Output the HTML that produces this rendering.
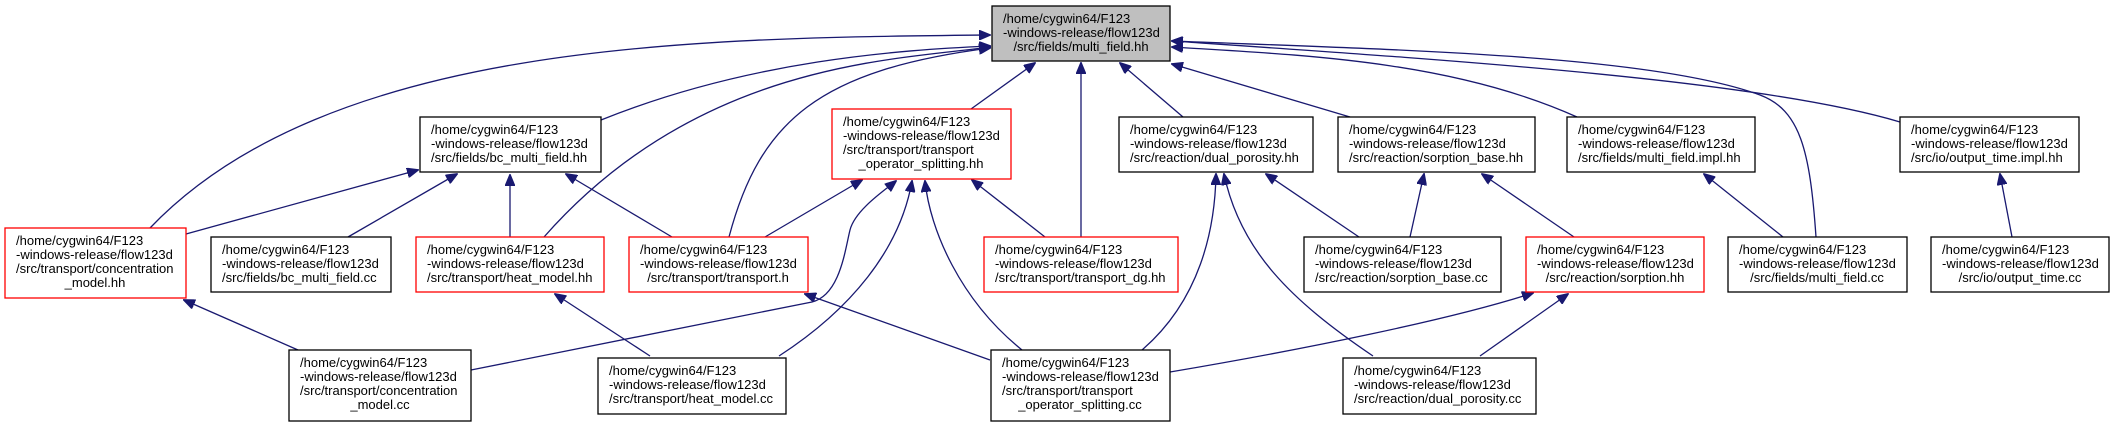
<!DOCTYPE html>
<html><head><meta charset="utf-8"><style>
html,body{margin:0;padding:0;background:#fff;}
svg{display:block;}
text{font-family:"Liberation Sans",sans-serif;font-size:13px;fill:#000;}
.e{fill:none;stroke:#191970;stroke-width:1.3;}
</style></head><body>
<svg width="2115" height="423" viewBox="0 0 2115 423" xmlns="http://www.w3.org/2000/svg">
<defs><marker id="a" markerWidth="12" markerHeight="10" refX="11" refY="5" orient="auto" markerUnits="userSpaceOnUse"><path d="M0,0 L12,5 L0,10 z" fill="#191970" stroke="#191970"/></marker></defs>

<!-- edges to multi_field.hh -->
<path class="e" marker-end="url(#a)" d="M150,228 C330,40 700,38 990,35"/>
<path class="e" marker-end="url(#a)" d="M601,120 C750,60 900,50 990,46"/>
<path class="e" marker-end="url(#a)" d="M544,237 C700,60 900,60 990,47"/>
<path class="e" marker-end="url(#a)" d="M729,237 C760,120 820,70 990,48"/>
<path class="e" marker-end="url(#a)" d="M971,109 L1035,63"/>
<path class="e" marker-end="url(#a)" d="M1081,237 L1081,63"/>
<path class="e" marker-end="url(#a)" d="M1183,117 L1120,63"/>
<path class="e" marker-end="url(#a)" d="M1350,117 L1172,64"/>
<path class="e" marker-end="url(#a)" d="M1577,117 C1450,60 1300,55 1172,47"/>
<path class="e" marker-end="url(#a)" d="M1816,237 C1810,150 1800,110 1760,95 C1650,55 1400,50 1172,41"/>
<path class="e" marker-end="url(#a)" d="M1900,122 C1760,80 1450,60 1172,41"/>

<!-- inner edges -->
<path class="e" marker-end="url(#a)" d="M186,234 L418,170"/>
<path class="e" marker-end="url(#a)" d="M348,237 L457,174"/>
<path class="e" marker-end="url(#a)" d="M510,237 L510,175"/>
<path class="e" marker-end="url(#a)" d="M672,237 L566,174"/>
<path class="e" marker-end="url(#a)" d="M765,237 L862,180"/>
<path class="e" marker-end="url(#a)" d="M1045,237 L972,180"/>
<path class="e" marker-end="url(#a)" d="M471,370 L812,302 C840,295 845,250 850,230 C855,210 885,190 896,181"/>
<path class="e" marker-end="url(#a)" d="M779,356 C850,310 900,250 912,181"/>
<path class="e" marker-end="url(#a)" d="M1022,350 C960,300 930,230 925,181"/>
<path class="e" marker-end="url(#a)" d="M298,350 L184,300"/>
<path class="e" marker-end="url(#a)" d="M650,356 L555,294"/>
<path class="e" marker-end="url(#a)" d="M990,360 L805,294"/>
<path class="e" marker-end="url(#a)" d="M1142,350 C1200,300 1215,230 1216,174"/>
<path class="e" marker-end="url(#a)" d="M1373,356 C1290,300 1240,250 1224,174"/>
<path class="e" marker-end="url(#a)" d="M1359,237 L1266,174"/>
<path class="e" marker-end="url(#a)" d="M1410,237 L1424,174"/>
<path class="e" marker-end="url(#a)" d="M1574,237 L1482,174"/>
<path class="e" marker-end="url(#a)" d="M1170,372 C1300,350 1450,320 1533,293"/>
<path class="e" marker-end="url(#a)" d="M1480,356 L1568,294"/>
<path class="e" marker-end="url(#a)" d="M1783,237 L1704,174"/>
<path class="e" marker-end="url(#a)" d="M2012,237 L2000,174"/>

<!-- nodes -->
<g stroke-width="1.3">
<rect x="992" y="6" width="178" height="55" fill="#bfbfbf" stroke="#000"/>
<rect x="420" y="117" width="181" height="55" fill="#fff" stroke="#000"/>
<rect x="832" y="109" width="179" height="70" fill="#fff" stroke="#ff0000"/>
<rect x="1119" y="117" width="194" height="55" fill="#fff" stroke="#000"/>
<rect x="1338" y="117" width="197" height="55" fill="#fff" stroke="#000"/>
<rect x="1567" y="117" width="188" height="55" fill="#fff" stroke="#000"/>
<rect x="1900" y="117" width="179" height="55" fill="#fff" stroke="#000"/>
<rect x="5" y="228" width="181" height="70" fill="#fff" stroke="#ff0000"/>
<rect x="211" y="237" width="180" height="55" fill="#fff" stroke="#000"/>
<rect x="416" y="237" width="188" height="55" fill="#fff" stroke="#ff0000"/>
<rect x="629" y="237" width="179" height="55" fill="#fff" stroke="#ff0000"/>
<rect x="984" y="237" width="194" height="55" fill="#fff" stroke="#ff0000"/>
<rect x="1304" y="237" width="197" height="55" fill="#fff" stroke="#000"/>
<rect x="1526" y="237" width="178" height="55" fill="#fff" stroke="#ff0000"/>
<rect x="1728" y="237" width="179" height="55" fill="#fff" stroke="#000"/>
<rect x="1931" y="237" width="178" height="55" fill="#fff" stroke="#000"/>
<rect x="289" y="350" width="182" height="71" fill="#fff" stroke="#000"/>
<rect x="598" y="358" width="188" height="56" fill="#fff" stroke="#000"/>
<rect x="991" y="350" width="179" height="71" fill="#fff" stroke="#000"/>
<rect x="1343" y="358" width="193" height="56" fill="#fff" stroke="#000"/>
</g>

<!-- labels -->
<g>
<text x="1003" y="23">/home/cygwin64/F123</text><text x="1003" y="37">-windows-release/flow123d</text><text x="1081" y="51" text-anchor="middle">/src/fields/multi_field.hh</text>
<text x="431" y="134">/home/cygwin64/F123</text><text x="431" y="148">-windows-release/flow123d</text><text x="431" y="162">/src/fields/bc_multi_field.hh</text>
<text x="843" y="126">/home/cygwin64/F123</text><text x="843" y="140">-windows-release/flow123d</text><text x="843" y="154">/src/transport/transport</text><text x="921" y="168" text-anchor="middle">_operator_splitting.hh</text>
<text x="1130" y="134">/home/cygwin64/F123</text><text x="1130" y="148">-windows-release/flow123d</text><text x="1130" y="162">/src/reaction/dual_porosity.hh</text>
<text x="1349" y="134">/home/cygwin64/F123</text><text x="1349" y="148">-windows-release/flow123d</text><text x="1349" y="162">/src/reaction/sorption_base.hh</text>
<text x="1578" y="134">/home/cygwin64/F123</text><text x="1578" y="148">-windows-release/flow123d</text><text x="1578" y="162">/src/fields/multi_field.impl.hh</text>
<text x="1911" y="134">/home/cygwin64/F123</text><text x="1911" y="148">-windows-release/flow123d</text><text x="1911" y="162">/src/io/output_time.impl.hh</text>
<text x="16" y="245">/home/cygwin64/F123</text><text x="16" y="259">-windows-release/flow123d</text><text x="16" y="273">/src/transport/concentration</text><text x="95" y="287" text-anchor="middle">_model.hh</text>
<text x="222" y="254">/home/cygwin64/F123</text><text x="222" y="268">-windows-release/flow123d</text><text x="222" y="282">/src/fields/bc_multi_field.cc</text>
<text x="427" y="254">/home/cygwin64/F123</text><text x="427" y="268">-windows-release/flow123d</text><text x="427" y="282">/src/transport/heat_model.hh</text>
<text x="640" y="254">/home/cygwin64/F123</text><text x="640" y="268">-windows-release/flow123d</text><text x="718" y="282" text-anchor="middle">/src/transport/transport.h</text>
<text x="995" y="254">/home/cygwin64/F123</text><text x="995" y="268">-windows-release/flow123d</text><text x="995" y="282">/src/transport/transport_dg.hh</text>
<text x="1315" y="254">/home/cygwin64/F123</text><text x="1315" y="268">-windows-release/flow123d</text><text x="1315" y="282">/src/reaction/sorption_base.cc</text>
<text x="1537" y="254">/home/cygwin64/F123</text><text x="1537" y="268">-windows-release/flow123d</text><text x="1615" y="282" text-anchor="middle">/src/reaction/sorption.hh</text>
<text x="1739" y="254">/home/cygwin64/F123</text><text x="1739" y="268">-windows-release/flow123d</text><text x="1817" y="282" text-anchor="middle">/src/fields/multi_field.cc</text>
<text x="1942" y="254">/home/cygwin64/F123</text><text x="1942" y="268">-windows-release/flow123d</text><text x="2020" y="282" text-anchor="middle">/src/io/output_time.cc</text>
<text x="300" y="367">/home/cygwin64/F123</text><text x="300" y="381">-windows-release/flow123d</text><text x="300" y="395">/src/transport/concentration</text><text x="380" y="409" text-anchor="middle">_model.cc</text>
<text x="609" y="375">/home/cygwin64/F123</text><text x="609" y="389">-windows-release/flow123d</text><text x="609" y="403">/src/transport/heat_model.cc</text>
<text x="1002" y="367">/home/cygwin64/F123</text><text x="1002" y="381">-windows-release/flow123d</text><text x="1002" y="395">/src/transport/transport</text><text x="1080" y="409" text-anchor="middle">_operator_splitting.cc</text>
<text x="1354" y="375">/home/cygwin64/F123</text><text x="1354" y="389">-windows-release/flow123d</text><text x="1354" y="403">/src/reaction/dual_porosity.cc</text>
</g>
</svg>
</body></html>
